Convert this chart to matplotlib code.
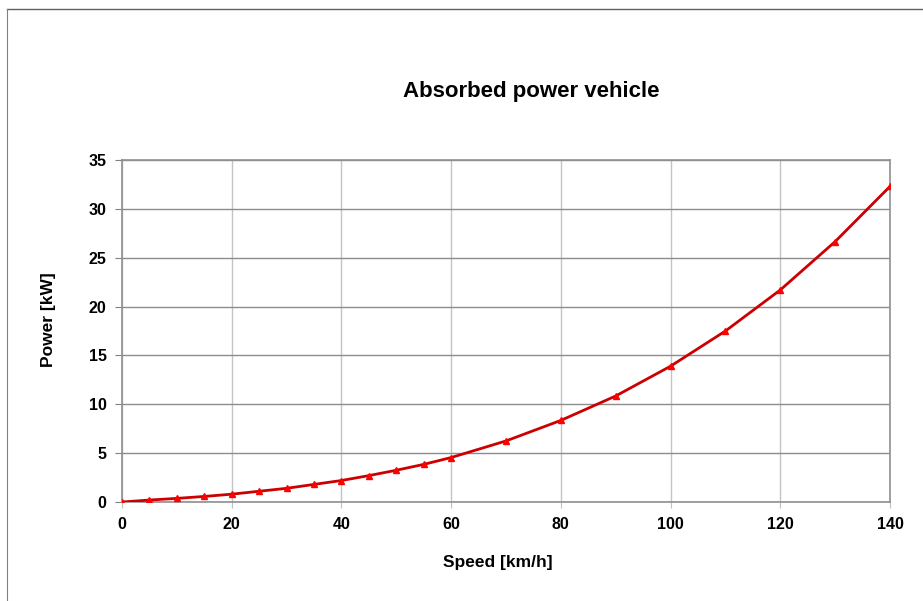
import matplotlib.pyplot as plt
from matplotlib.lines import Line2D

# data
speed = [0, 5, 10, 15, 20, 25, 30, 35, 40, 45, 50, 55, 60,
         70, 80, 90, 100, 110, 120, 130, 140]
power = [0.0, 0.2, 0.37, 0.57, 0.8, 1.1, 1.4, 1.8, 2.2, 2.7, 3.25, 3.85, 4.55,
         6.25, 8.35, 10.85, 13.9, 17.5, 21.7, 26.65, 32.3]
x_ticks = [0, 20, 40, 60, 80, 100, 120, 140]
y_ticks = [0, 5, 10, 15, 20, 25, 30, 35]

plt.rcParams['font.family'] = ['Liberation Sans', 'DejaVu Sans']

fig = plt.figure(figsize=(9.23, 6.01), dpi=100)
ax = fig.add_axes([122 / 923, 1 - 502 / 601, 768 / 923, 342 / 601])

ax.plot(speed, power, color='#cc0000', lw=2, zorder=3)
ax.plot(speed, power, ls='none', marker='^', ms=5, color='red',
        markeredgecolor='red', zorder=4)

ax.set_xlim(0, 140)
ax.set_ylim(0, 35)
ax.set_xticks(x_ticks)
ax.set_yticks(y_ticks)
ax.yaxis.grid(True, color='#8c8c8c', lw=1)
ax.xaxis.grid(True, color='#c4c4c4', lw=1)
ax.set_axisbelow(True)
for s in ax.spines.values():
    s.set_color('#909090')
    s.set_linewidth(1.2)
ax.tick_params(axis='y', direction='out', length=5, color='#808080', pad=6)
ax.tick_params(axis='x', direction='out', length=4, color='#c0c0c0', pad=7)
for lab in ax.get_xticklabels() + ax.get_yticklabels():
    lab.set_fontweight('bold')
    lab.set_fontsize(11.5)

fig.text(531 / 923, 1 - 92 / 601, 'Absorbed power vehicle', ha='center', va='center',
         fontsize=16, fontweight='bold')
fig.text(498 / 923, 1 - 563 / 601, 'Speed [km/h]', ha='center', va='center',
         fontsize=12.5, fontweight='bold')
fig.text(48 / 923, 1 - 320 / 601, 'Power [kW]', ha='center', va='center',
         fontsize=12.5, fontweight='bold', rotation=90)

# outer chart frame (cut off at the right and bottom)
fig.add_artist(Line2D([7 / 923, 1], [1 - 9 / 601, 1 - 9 / 601], color='#606060', lw=1))
fig.add_artist(Line2D([7 / 923, 7 / 923], [1 - 9 / 601, 0], color='#808080', lw=0.8))

fig.savefig('out.png', dpi=100)
